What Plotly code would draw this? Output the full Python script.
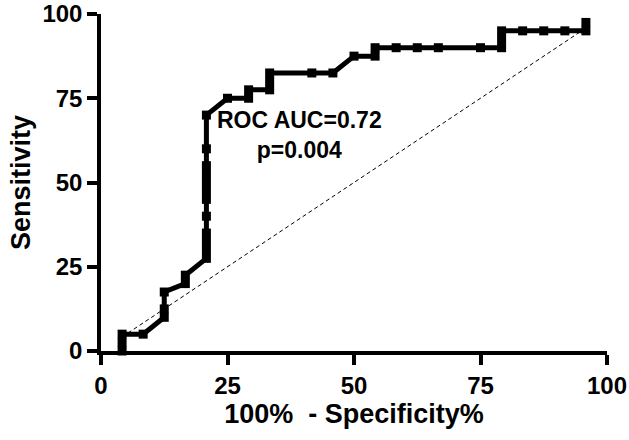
import plotly.graph_objects as go

# ROC points (100% - specificity, sensitivity)
fpr = [4.17, 4.17, 4.17, 8.33, 12.5, 12.5, 12.5, 16.67, 16.67,
       20.83, 20.83, 20.83, 20.83, 20.83, 20.83, 20.83, 20.83, 20.83, 20.83, 20.83, 20.83,
       25.0, 29.17, 29.17, 33.33, 33.33, 33.33, 41.67, 45.83, 50.0, 54.17, 54.17,
       58.33, 62.5, 66.67, 75.0, 79.17, 79.17, 79.17,
       83.33, 87.5, 91.67, 95.83, 95.83]
sens = [0, 2.5, 5, 5, 10, 12.5, 17.5, 20, 22.5,
        27.5, 30, 32.5, 35, 40, 45, 47.5, 50, 52.5, 55, 60, 70,
        75, 75, 77.5, 77.5, 80, 82.5, 82.5, 82.5, 87.5, 87.5, 90,
        90, 90, 90, 90, 90, 92.5, 95,
        95, 95, 95, 95, 97.5]

ident = [4.17, 95.83]

auc_txt = "ROC AUC=0.72<br>p=0.004"
xlab = "100%  - Specificity%"
ylab = "Sensitivity"
ticks = [0, 25, 50, 75, 100]

fnt = "Liberation Sans, Arial, sans-serif"

fig = go.Figure()
fig.add_trace(go.Scatter(x=ident, y=ident, mode="lines",
                         line=dict(color="black", width=1, dash="4px,3px"),
                         showlegend=False))
fig.add_trace(go.Scatter(x=fpr, y=sens, mode="lines+markers",
                         line=dict(color="black", width=5),
                         marker=dict(symbol="square", size=9, color="black"),
                         cliponaxis=False, showlegend=False))

fig.add_annotation(x=39.3, y=64, xref="x", yref="y", text=auc_txt,
                   showarrow=False, align="center",
                   font=dict(family=fnt, size=23, color="black", weight="bold"))

ax = dict(range=[0, 100], tickvals=ticks, showgrid=False, zeroline=False,
          automargin=False,
          showline=True, linecolor="black", linewidth=3.5,
          ticks="outside", ticklen=10, tickwidth=3.5, tickcolor="black",
          tickfont=dict(family=fnt, size=24, color="black", weight="bold"))

fig.update_layout(
    width=629, height=440, autosize=False,
    margin=dict(l=101, r=22, t=14, b=89),
    plot_bgcolor="white", paper_bgcolor="white",
    xaxis=dict(ax, title=dict(text=xlab, standoff=5,
                              font=dict(family=fnt, size=27, color="black", weight="bold"))),
    yaxis=dict(ax, title=dict(text=ylab, standoff=5,
                              font=dict(family=fnt, size=27, color="black", weight="bold"))),
)

# page body has an 8px margin by default, drop it so the figure sits at 0,0
fig.write_html("out.html", config={"displayModeBar": False},
               post_script="document.body.style.margin='0';")
